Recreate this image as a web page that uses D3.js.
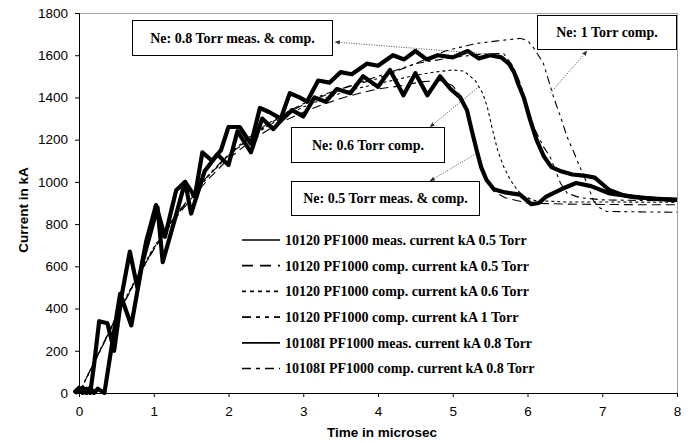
<!DOCTYPE html>
<html>
<head>
<meta charset="utf-8">
<script src="https://cdn.jsdelivr.net/npm/d3@7"></script>
<style>
  html, body { margin: 0; padding: 0; background: #fff; }
  svg { display: block; }
</style>
</head>
<body>
<svg id="chart" width="699" height="443"></svg>
<script>
// ---------- DATA ----------
const xTicks = [0, 1, 2, 3, 4, 5, 6, 7, 8];
const yTicks = [0, 200, 400, 600, 800, 1000, 1200, 1400, 1600, 1800];
const xLabel = "Time in microsec";
const yLabel = "Current in kA";

const seriesNames = [
  "10120 PF1000 meas. current kA 0.5 Torr",
  "10120 PF1000 comp. current kA 0.5 Torr",
  "10120 PF1000 comp. current kA 0.6 Torr",
  "10120 PF1000 comp. current kA 1 Torr",
  "10108I PF1000 meas. current kA 0.8 Torr",
  "10108I PF1000 comp. current kA 0.8 Torr"
];

// [time µs, current kA]
const meas05 = [[-0.05,0],[0.05,25],[0.1,0],[0.15,25],[0.2,0],[0.25,20],[0.34,0],[0.45,250],[0.55,470],[0.7,320],[0.85,620],[1.05,880],[1.12,620],[1.28,820],
  [1.42,1000],[1.5,850],[1.68,1050],[1.85,1130],[2.0,1080],[2.12,1240],[2.3,1140],[2.45,1300],[2.6,1250],[2.7,1290],
  [2.85,1340],[3.0,1310],[3.15,1400],[3.3,1380],[3.45,1440],[3.63,1420],[3.8,1500],[4.0,1450],[4.16,1530],[4.34,1410],
  [4.5,1515],[4.66,1410],[4.83,1500],[4.97,1440],[5.1,1400],[5.19,1340],[5.25,1250],[5.32,1150],[5.38,1070],[5.45,1010],
  [5.55,965],[5.7,950],[5.9,940],[6.05,895],[6.15,900],[6.25,930],[6.45,965],[6.65,995],[6.85,980],[7.1,945],[7.4,930],
  [7.7,920],[8.0,915]];

const comp05 = [[0,0],[0.25,180],[0.5,360],[0.75,530],[1.0,680],[1.25,810],[1.5,920],[1.75,1020],[2.0,1110],[2.25,1180],
  [2.5,1240],[2.75,1290],[3.0,1330],[3.25,1365],[3.5,1395],[3.75,1420],[4.0,1440],[4.3,1455],[4.6,1475],[4.85,1480],
  [5.0,1455],[5.12,1400],[5.2,1330],[5.28,1220],[5.36,1100],[5.45,1010],[5.55,955],[5.7,925],[6.0,900],[6.5,895],
  [7.0,893],[7.5,892],[8.0,892]];

const comp06 = [[0,0],[0.25,180],[0.5,365],[0.75,535],[1.0,690],[1.25,820],[1.5,935],[1.75,1035],[2.0,1125],[2.25,1195],
  [2.5,1260],[2.75,1310],[3.0,1355],[3.25,1390],[3.5,1420],[3.75,1445],[4.0,1465],[4.5,1505],[4.75,1520],[5.0,1530],
  [5.15,1525],[5.3,1480],[5.4,1420],[5.46,1358],[5.53,1250],[5.6,1150],[5.68,1073],[5.77,1010],[5.86,963],[5.95,931],
  [6.1,912],[6.5,905],[7.0,905],[8.0,903]];

const comp1 = [[0,0],[0.25,175],[0.5,355],[0.75,525],[1.0,680],[1.25,815],[1.5,930],[1.75,1035],[2.0,1125],[2.25,1200],
  [2.5,1265],[2.75,1320],[3.0,1365],[3.25,1405],[3.5,1440],[4.0,1500],[4.5,1560],[4.9,1620],[5.3,1655],[5.6,1668],
  [5.9,1680],[6.0,1670],[6.08,1636],[6.21,1564],[6.3,1460],[6.35,1400],[6.45,1300],[6.53,1213],[6.62,1140],[6.7,1071],
  [6.8,990],[6.88,913],[6.95,880],[7.06,860],[7.5,858],[8.0,856]];

const meas08 = [[-0.07,0],[0.0,25],[0.05,0],[0.1,20],[0.15,0],[0.2,130],[0.27,340],[0.38,330],[0.47,200],[0.57,460],[0.68,670],
  [0.78,500],[0.9,720],[1.03,890],[1.15,740],[1.3,960],[1.42,1000],[1.55,930],[1.65,1140],[1.78,1100],[1.9,1150],
  [2.0,1260],[2.15,1260],[2.3,1180],[2.42,1350],[2.55,1330],[2.7,1300],[2.82,1420],[2.95,1400],[3.05,1380],[3.2,1480],
  [3.35,1470],[3.5,1520],[3.65,1510],[3.85,1560],[4.0,1550],[4.2,1600],[4.35,1580],[4.5,1620],[4.65,1580],[4.8,1600],
  [5.0,1590],[5.2,1620],[5.35,1585],[5.5,1600],[5.65,1590],[5.75,1560],[5.82,1520],[5.88,1460],[5.95,1400],[6.03,1300],
  [6.12,1200],[6.22,1120],[6.32,1070],[6.45,1050],[6.6,1035],[6.75,1030],[6.9,1020],[7.0,990],[7.1,960],[7.3,935],
  [7.5,925],[7.75,920],[8.0,915]];

const comp08 = [[0,0],[0.25,178],[0.5,360],[0.75,530],[1.0,685],[1.25,820],[1.5,935],[1.75,1040],[2.0,1130],[2.25,1205],
  [2.5,1270],[2.75,1325],[3.0,1370],[3.25,1410],[3.5,1440],[4.0,1490],[4.5,1560],[5.0,1590],[5.4,1605],[5.68,1608],
  [5.81,1546],[5.9,1470],[6.0,1358],[6.08,1263],[6.21,1168],[6.3,1121],[6.44,995],[6.53,947],[6.7,925],[7.0,915],
  [7.5,912],[8.0,910]];

const seriesData = [meas05, comp05, comp06, comp1, meas08, comp08];

// annotations: label, anchor point on curve [t, kA]
const annoLabels = ["Ne: 0.8 Torr meas. & comp.", "Ne: 1 Torr comp.", "Ne: 0.6 Torr comp.", "Ne: 0.5 Torr meas. & comp."];
const annoAnchors = [[5.59, 1602], [6.31, 1422], [5.35, 1451], [5.31, 1134]];

// ---------- STYLES / LAYOUT ----------
const styles = [
  { w: 4.2, dash: null },
  { w: 1.1, dash: "9,5" },
  { w: 1.1, dash: "3,3" },
  { w: 1.1, dash: "8,4,3,4,3,4" },
  { w: 4.2, dash: null },
  { w: 1.1, dash: "8,4,3,4" }
];
const legendStyles = [
  { w: 1.7, dash: null },
  { w: 1.7, dash: "11,7" },
  { w: 1.7, dash: "4,4" },
  { w: 1.7, dash: "9,5,4,5,4,5" },
  { w: 1.7, dash: null },
  { w: 1.7, dash: "9,5,4,5" }
];
// boxes: x, y, w, h ; arrow head point on box
const boxes = [
  { x: 132.5, y: 20.5, w: 200, h: 35, hx: 335, hy: 42 },
  { x: 537.5, y: 15.5, w: 139, h: 34, hx: 587, hy: 51 },
  { x: 291.5, y: 127.5, w: 153, h: 35, hx: 430, hy: 127 },
  { x: 291.5, y: 181.5, w: 188, h: 34, hx: 430, hy: 181 }
];

const L = 79, R = 677, T = 13, B = 393;
const serif = "'Liberation Serif', 'Times New Roman', serif";
const sans = "'Liberation Sans', Arial, sans-serif";

const svg = d3.select("#chart");
const x = d3.scaleLinear().domain([0, 8]).range([L, R]);
const y = d3.scaleLinear().domain([0, 1800]).range([B, T]);

// plot frame (grey top/right)
svg.append("line").attr("x1", L).attr("x2", R).attr("y1", T + 0.5).attr("y2", T + 0.5)
  .attr("stroke", "#a0a0a0").attr("stroke-width", 1);
svg.append("line").attr("x1", R + 0.5).attr("x2", R + 0.5).attr("y1", T).attr("y2", B)
  .attr("stroke", "#a0a0a0").attr("stroke-width", 1);

// clip
svg.append("clipPath").attr("id", "clip").append("rect")
  .attr("x", L - 6).attr("y", T - 2).attr("width", R - L + 8).attr("height", B - T + 4);

const line = d3.line().x(d => x(d[0])).y(d => y(d[1]));

const g = svg.append("g").attr("clip-path", "url(#clip)");
const order = [1, 2, 3, 5, 0, 4];
order.forEach(i => {
  g.append("path")
    .datum(seriesData[i])
    .attr("d", line)
    .attr("fill", "none")
    .attr("stroke", "#000")
    .attr("stroke-width", styles[i].w)
    .attr("stroke-linejoin", "round")
    .attr("stroke-dasharray", styles[i].dash);
});

// axes
const xAxis = d3.axisBottom(x).tickValues(xTicks).tickSize(4).tickFormat(d3.format("d"));
const yAxis = d3.axisLeft(y).tickValues(yTicks).tickSize(4).tickFormat(d3.format("d"));

const gx = svg.append("g").attr("transform", `translate(0,${B})`).call(xAxis);
const gy = svg.append("g").attr("transform", `translate(${L},0)`).call(yAxis);
[gx, gy].forEach(a => {
  a.select(".domain").attr("stroke", "#000").attr("stroke-width", 1);
  a.selectAll(".tick line").attr("stroke", "#000");
  a.selectAll("text").attr("font-family", sans)
    .attr("font-size", 13.5).attr("fill", "#000");
});
gx.selectAll("text").attr("dy", "1.15em");
gy.selectAll("text").attr("x", -11);

// axis titles
svg.append("text").attr("x", (L + R) / 2 + 4).attr("y", 437)
  .attr("text-anchor", "middle")
  .attr("font-family", sans)
  .attr("font-weight", "bold").attr("font-size", 13.5)
  .text(xLabel);
svg.append("text")
  .attr("transform", `translate(28,${(T + B) / 2 + 7}) rotate(-90)`)
  .attr("text-anchor", "middle")
  .attr("font-family", sans)
  .attr("font-weight", "bold").attr("font-size", 13.5)
  .text(yLabel);

// legend
const legY0 = 240, legDy = 25.7;
seriesNames.forEach((name, i) => {
  const yy = legY0 + i * legDy;
  svg.append("line").attr("x1", 242).attr("x2", 280).attr("y1", yy).attr("y2", yy)
    .attr("stroke", "#000").attr("stroke-width", legendStyles[i].w)
    .attr("stroke-dasharray", legendStyles[i].dash);
  svg.append("text").attr("x", 285).attr("y", yy + 4.8)
    .attr("font-family", serif)
    .attr("font-weight", "bold").attr("font-size", 14)
    .text(name);
});

// arrow marker
const defs = svg.append("defs");
defs.append("marker").attr("id", "ah").attr("viewBox", "0 0 10 10")
  .attr("refX", 9).attr("refY", 5).attr("markerWidth", 6).attr("markerHeight", 6)
  .attr("orient", "auto")
  .append("path").attr("d", "M0,1 L10,5 L0,9 z").attr("fill", "#333");

// annotations
boxes.forEach((b, i) => {
  const a = annoAnchors[i];
  svg.append("line")
    .attr("x1", x(a[0])).attr("y1", y(a[1]))
    .attr("x2", b.hx).attr("y2", b.hy)
    .attr("stroke", "#333").attr("stroke-width", 0.9)
    .attr("stroke-dasharray", "1,1.5")
    .attr("marker-end", "url(#ah)");
  svg.append("rect").attr("x", b.x).attr("y", b.y).attr("width", b.w).attr("height", b.h)
    .attr("fill", "#fff").attr("stroke", "#000").attr("stroke-width", 1);
  svg.append("text").attr("x", b.x + b.w / 2).attr("y", b.y + b.h / 2 + 4.8)
    .attr("text-anchor", "middle")
    .attr("font-family", serif)
    .attr("font-weight", "bold").attr("font-size", 14)
    .text(annoLabels[i]);
});
</script>
</body>
</html>
